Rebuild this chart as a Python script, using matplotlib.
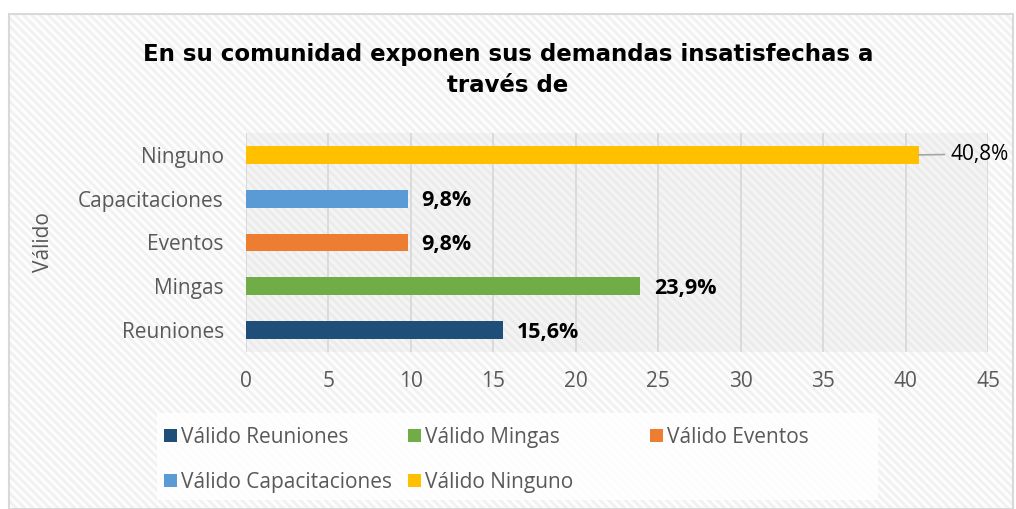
import matplotlib
matplotlib.use("Agg")
import matplotlib.pyplot as plt
from matplotlib.patches import Rectangle, Patch

# Datos
categorias = ["Reuniones", "Mingas", "Eventos", "Capacitaciones", "Ninguno"]
valores = [15.6, 23.9, 9.8, 9.8, 40.8]
etiquetas = ["15,6%", "23,9%", "9,8%", "9,8%", "40,8%"]
colores = ["#1F4E79", "#70AD47", "#ED7D31", "#5B9BD5", "#FFC000"]
leyenda = ["Válido Reuniones", "Válido Mingas", "Válido Eventos",
           "Válido Capacitaciones", "Válido Ninguno"]
ticks_x = [0, 5, 10, 15, 20, 25, 30, 35, 40, 45]

plt.rcParams['font.family'] = ['Open Sans', 'DejaVu Sans']
plt.rcParams['hatch.linewidth'] = 2.0

W, H = 1016, 509
fig = plt.figure(figsize=(W / 100, H / 100), dpi=100)
fig.patch.set_facecolor('white')

# Marco con fondo rayado
fondo = Rectangle((9 / W, 0), 1004 / W, 1 - 14 / H, transform=fig.transFigure,
                  facecolor='#fdfdfd', edgecolor='#f1f1f1', linewidth=0,
                  hatch='\\\\\\\\', zorder=-2)
borde = Rectangle((9 / W, 0), 1004 / W, 1 - 14 / H, transform=fig.transFigure,
                  fill=False, edgecolor='#d9d9d9', linewidth=1.5, zorder=-1)
caja_ley = Rectangle((157 / W, 1 - 500 / H), (878 - 157) / W, 87 / H,
                     transform=fig.transFigure, facecolor='white',
                     edgecolor='none', alpha=0.85, zorder=-1)
fig.patches.extend([fondo, borde, caja_ley])

ax = fig.add_axes([246 / W, 1 - 352 / H, (988 - 246) / W, (352 - 133) / H])
ax.set_zorder(2)
ax.patch.set_facecolor('#dcdcdc')
ax.patch.set_alpha(0.25)

y = list(range(len(categorias)))
ax.barh(y, valores, height=0.41, color=colores, zorder=3)

ax.set_xlim(0, 45)
ax.set_ylim(-0.5, 4.5)
ax.set_xticks(ticks_x)
ax.set_yticks(y)
ax.set_yticklabels(categorias)
ax.tick_params(axis='both', length=0, labelsize=15, colors='#595959')
ax.tick_params(axis='x', pad=14)
ax.tick_params(axis='y', pad=16)
ax.xaxis.grid(True, color='#d9d9d9', linewidth=1.3, zorder=0)
for s in ax.spines.values():
    s.set_visible(False)
ax.axvline(0, color='#d9d9d9', linewidth=1.3, zorder=1)

ax.set_ylabel("Válido", fontsize=15, color='#595959')
ax.yaxis.set_label_coords(-0.259, 0.5)

# Etiquetas de datos
for i, (v, t) in enumerate(zip(valores, etiquetas)):
    if i == len(valores) - 1:
        ax.annotate(t, xy=(v, i), xytext=(v + 1.9, i + 0.02),
                    fontsize=15, color='#000000', va='center', ha='left',
                    arrowprops=dict(arrowstyle='-', color='#a6a6a6', lw=1.2,
                                    shrinkA=2, shrinkB=0))
    else:
        ax.text(v + 0.85, i - 0.05, t, fontsize=15.5, fontweight='bold',
                color='#000000', va='center', ha='left', zorder=4)

fig.text(0.5, 1 - 70 / H, "En su comunidad exponen sus demandas insatisfechas a\ntravés de",
         ha='center', va='center', fontsize=16.5, fontweight='bold',
         family=['DejaVu Sans'], linespacing=1.45)

# Leyenda en tres columnas de igual ancho, filas: Reuniones/Mingas/Eventos,
# Capacitaciones/Ninguno
col_x = [164, 408, 650]
for j, x0 in enumerate(col_x):
    idx = [k for k in (j, j + 3) if k < len(leyenda)]
    leg = fig.legend([Patch(facecolor=colores[k]) for k in idx],
                     [leyenda[k] for k in idx],
                     loc='upper left', bbox_to_anchor=(x0 / W, 1 - 427 / H),
                     frameon=False, fontsize=15, handlelength=0.62,
                     handleheight=0.62, handletextpad=0.2, labelspacing=1.15,
                     borderpad=0, borderaxespad=0)
    for tx in leg.get_texts():
        tx.set_color('#595959')

fig.savefig("out.png", dpi=100)
